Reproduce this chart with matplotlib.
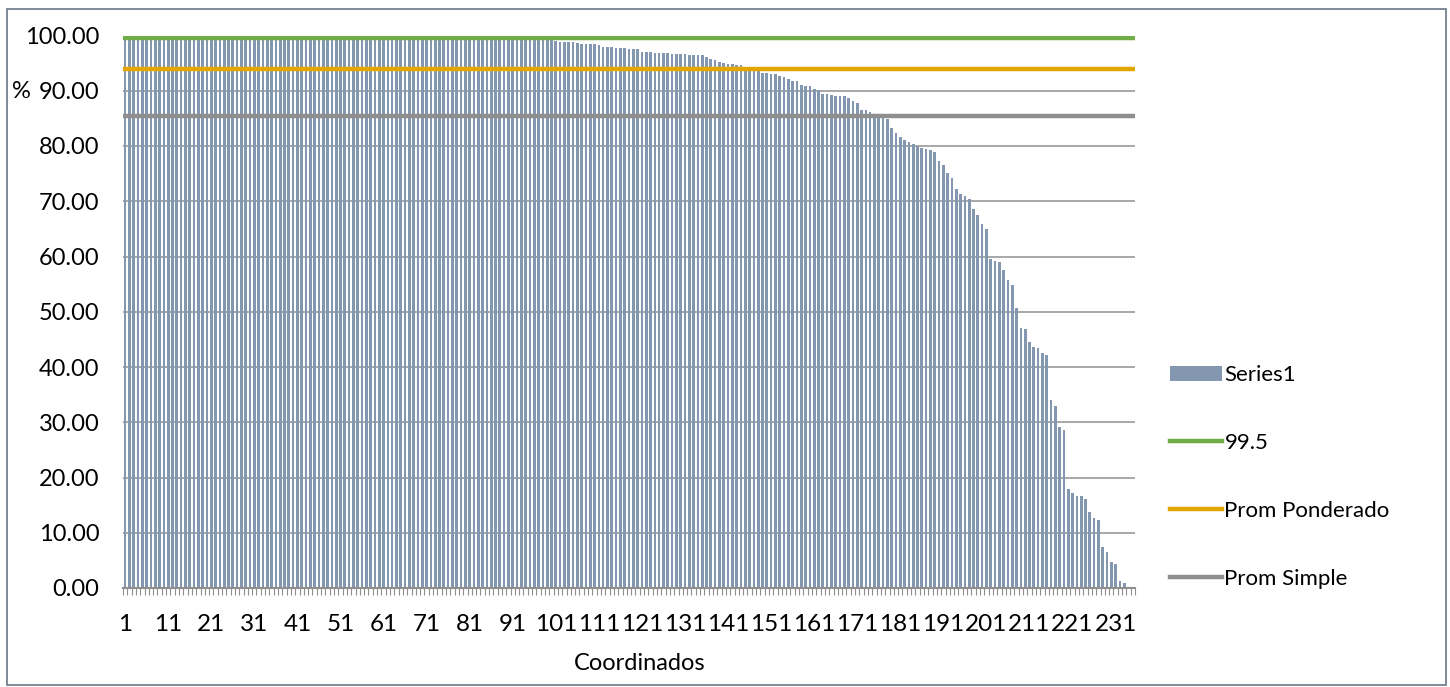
import numpy as np
import matplotlib
matplotlib.use("Agg")
import matplotlib.pyplot as plt
from matplotlib.patches import Patch, Rectangle
from matplotlib.lines import Line2D

plt.rcParams["font.family"] = ["Lato", "DejaVu Sans"]

# Series1 values (%)
top_values = [
    100.0, 100.0, 100.0, 100.0, 100.0, 100.0, 100.0, 100.0, 100.0, 100.0, 100.0, 100.0,
    100.0, 100.0, 100.0, 100.0, 100.0, 100.0, 100.0, 100.0, 100.0, 100.0, 100.0, 100.0,
    100.0, 100.0, 100.0, 100.0, 100.0, 100.0, 100.0, 100.0, 100.0, 100.0, 100.0, 100.0,
    100.0, 100.0, 100.0, 100.0, 100.0, 100.0, 100.0, 100.0, 100.0, 100.0, 100.0, 100.0,
    100.0, 100.0, 100.0, 100.0, 100.0, 100.0, 100.0, 100.0, 100.0, 100.0, 100.0, 100.0,
    100.0, 100.0, 100.0, 100.0, 100.0, 100.0, 100.0, 100.0, 100.0, 100.0, 100.0, 100.0,
    100.0, 100.0, 100.0, 100.0, 100.0, 100.0, 100.0, 100.0, 100.0, 100.0, 100.0, 100.0,
    100.0, 100.0, 100.0, 100.0, 99.8, 99.8, 99.7, 99.7, 99.6, 99.6, 99.5, 99.4,
]
tail_values = [
    99.1, 99.1, 99.1, 99.1, 99.0, 98.8, 98.8, 98.8, 98.8, 98.6,
    98.4, 98.4, 98.4, 98.4, 98.2, 98.0, 98.0, 97.9, 97.8, 97.8,
    97.7, 97.5, 97.5, 97.5, 97.1, 97.1, 97.1, 96.9, 96.9, 96.8,
    96.8, 96.7, 96.7, 96.7, 96.6, 96.5, 96.5, 96.4, 96.4, 96.1,
    95.8, 95.5, 95.2, 95.1, 94.9, 94.8, 94.7, 94.6, 94.3, 94.1,
    93.9, 93.6, 93.3, 93.2, 93.1, 93.0, 92.6, 92.45, 92.2, 91.7,
    91.7, 91.1, 90.8, 90.8, 90.3, 90.1, 89.4, 89.4, 89.2, 89.05,
    89.0, 89.0, 88.6, 88.2, 87.8, 86.6, 86.5, 86.1, 85.6, 85.4,
    85.2, 84.9, 83.3, 82.3, 81.7, 81.1, 80.7, 80.3, 80.0, 79.6,
    79.4, 79.2, 78.9, 77.2, 76.6, 75.2, 74.2, 72.3, 71.3, 71.0,
    70.4, 68.6, 67.5, 65.9, 65.0, 59.6, 59.1, 59.0, 57.5, 55.7,
    54.9, 50.6, 47.1, 46.8, 44.6, 43.6, 43.4, 42.5, 42.1, 34.0,
    32.9, 29.1, 28.6, 18.0, 17.2, 16.6, 16.6, 16.1, 13.8, 12.6,
    12.3, 7.4, 6.5, 4.7, 4.3, 1.25, 0.95, 0.0, 0.0,
]
series1 = np.array(top_values + tail_values)
coordinados = np.arange(1, len(series1) + 1)

meta = 99.5
prom_ponderado = 93.9
prom_simple = 85.4

fs = 17
fig = plt.figure(figsize=(14.5, 6.87), dpi=100)
ax = fig.add_axes([123 / 1450, 1 - 588 / 687, (1135 - 123) / 1450, (588 - 35.5) / 687])

ax.bar(coordinados, series1, width=0.62, color="#8497B0", zorder=2)
ax.axhline(meta, color="#70AD47", lw=3.2, zorder=3)
ax.axhline(prom_ponderado, color="#E3A600", lw=3.2, zorder=3)
ax.axhline(prom_simple, color="#8F8F8F", lw=3.2, zorder=3)

ax.set_xlim(0.5, len(series1) + 0.5)
ax.set_ylim(0, 100)
ax.set_yticks(np.arange(0, 101, 10))
ax.set_yticklabels([f"{v:.2f}" for v in np.arange(0, 101, 10)], fontsize=fs)
ax.yaxis.grid(True, color="#9A9A9A", lw=1.2, zorder=0)
ax.set_axisbelow(True)

ax.set_xticks(coordinados[::10])
ax.set_xticklabels([str(c) for c in coordinados[::10]], fontsize=17.5)
ax.set_xticks(np.arange(0.5, len(series1) + 1, 1), minor=True)
ax.tick_params(axis="x", which="major", length=0, pad=18.5)
ax.tick_params(axis="x", which="minor", length=5, color="#8F8F8F", width=0.8)
ax.tick_params(axis="y", length=0, pad=17)
ax.set_xlabel("Coordinados", fontsize=fs)
ax.xaxis.set_label_coords(0.511, -0.118)

for side in ["top", "left", "right"]:
    ax.spines[side].set_visible(False)
ax.spines["bottom"].set_color("#8F8F8F")
ax.spines["bottom"].set_linewidth(1.5)

fig.text(12 / 1450, 1 - 91 / 687, "%", fontsize=fs, va="center", ha="left")

handles = [
    Patch(facecolor="#8497B0", edgecolor="none"),
    Line2D([], [], color="#70AD47", lw=3.2),
    Line2D([], [], color="#E3A600", lw=3.2),
    Line2D([], [], color="#8F8F8F", lw=3.2),
]
fig.legend(handles, ["Series1", "99.5", "Prom Ponderado", "Prom Simple"],
           loc="center left", bbox_to_anchor=(1170 / 1450, 1 - 477 / 687),
           frameon=False, fontsize=16, handlelength=2.35, handletextpad=0.1,
           labelspacing=2.15, borderpad=0, borderaxespad=0)

fig.patches.append(Rectangle((7 / 1450, 2 / 687), 1439 / 1450, 676 / 687,
                             transform=fig.transFigure, fill=False,
                             edgecolor="#6B7785", lw=1.2))

fig.savefig("out.png", dpi=100)
